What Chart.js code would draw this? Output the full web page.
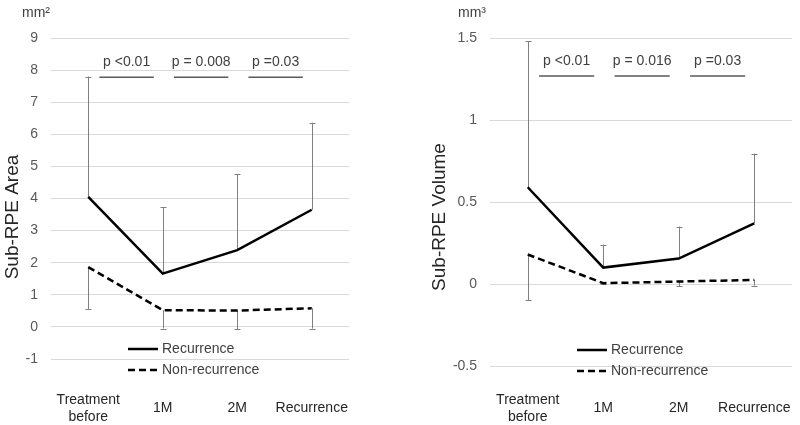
<!DOCTYPE html>
<html>
<head>
<meta charset="utf-8">
<script src="https://cdn.jsdelivr.net/npm/chart.js@4/dist/chart.umd.min.js"></script>
<style>
  html, body { margin: 0; padding: 0; background: #fff; }
  .row { display: flex; width: 800px; height: 425px; }
  canvas { display: block; }
</style>
</head>
<body>
<div class="row">
  <canvas id="areaChart" width="400" height="425"></canvas>
  <canvas id="volumeChart" width="400" height="425"></canvas>
</div>
<script>
// categories along the x axis
const categories = [["Treatment", "before"], "1M", "2M", "Recurrence"];

// Sub-RPE Area (mm2)
const areaRecurrence = [4.05, 1.66, 2.39, 3.65];
const areaRecurrenceUpper = [7.8, 3.72, 4.75, 6.36];
const areaNonRecurrence = [1.86, 0.52, 0.51, 0.58];
const areaNonRecurrenceLower = [0.56, -0.05, -0.08, -0.05];
const areaPValues = ["p <0.01", "p = 0.008", "p =0.03"];
const areaPLevel = 7.78;

// Sub-RPE Volume (mm3)
const volRecurrence = [0.59, 0.10, 0.155, 0.37];
const volRecurrenceUpper = [1.48, 0.24, 0.35, 0.795];
const volNonRecurrence = [0.18, 0.005, 0.015, 0.025];
const volNonRecurrenceLower = [-0.10, 0.0, -0.015, -0.01];
const volPValues = ["p <0.01", "p = 0.016", "p =0.03"];
const volPLevel = 1.268;

Chart.defaults.font.family = "'Liberation Sans', Arial, sans-serif";

// error bars, p-value brackets, legend, unit and y title
const extras = {
  id: "extras",
  beforeDatasetsDraw(chart, args, opts) {
    const { ctx, scales: { x, y } } = chart;
    ctx.save();
    ctx.strokeStyle = "#7f7f7f";
    ctx.lineWidth = 1;
    const bars = [[0, opts.upper], [1, opts.lower]];
    bars.forEach(([di, ends]) => {
      chart.data.datasets[di].data.forEach((v, i) => {
        const px = Math.round(x.getPixelForValue(i)) + 0.5;
        const y0 = y.getPixelForValue(v);
        const y1 = y.getPixelForValue(ends[i]);
        ctx.beginPath();
        ctx.moveTo(px, y0);
        ctx.lineTo(px, y1);
        ctx.moveTo(px - 3, Math.round(y1) + 0.5);
        ctx.lineTo(px + 3, Math.round(y1) + 0.5);
        ctx.stroke();
      });
    });
    ctx.restore();
  },
  afterDatasetsDraw(chart, args, opts) {
    const { ctx, scales: { x, y } } = chart;
    ctx.save();
    // p-value brackets
    const py = y.getPixelForValue(opts.pLevel);
    ctx.font = "14px 'Liberation Sans', Arial, sans-serif";
    ctx.textAlign = "center";
    ctx.textBaseline = "middle";
    opts.pTexts.forEach((t, i) => {
      const a = x.getPixelForValue(i + 0.15);
      const b = x.getPixelForValue(i + 0.88);
      ctx.strokeStyle = "#595959";
      ctx.lineWidth = 1.5;
      ctx.beginPath();
      ctx.moveTo(a, py);
      ctx.lineTo(b, py);
      ctx.stroke();
      ctx.fillStyle = "#404040";
      ctx.fillText(t, (a + b) / 2, py - 15);
    });
    // legend
    ctx.textAlign = "left";
    chart.data.datasets.forEach((ds, i) => {
      const ly = opts.legendY + i * 21;
      ctx.strokeStyle = ds.borderColor;
      ctx.lineWidth = ds.borderWidth;
      ctx.setLineDash(ds.borderDash || []);
      ctx.beginPath();
      ctx.moveTo(opts.legendX, ly);
      ctx.lineTo(opts.legendX + 30, ly);
      ctx.stroke();
      ctx.setLineDash([]);
      ctx.fillStyle = "#404040";
      ctx.fillText(ds.label, opts.legendX + 34, ly);
    });
    // unit
    ctx.fillStyle = "#404040";
    ctx.fillText(opts.unit, opts.unitX, 13);
    // y title
    ctx.translate(opts.titleX, 217);
    ctx.rotate(-Math.PI / 2);
    ctx.textAlign = "center";
    ctx.font = "19px 'Liberation Sans', Arial, sans-serif";
    ctx.fillStyle = "#262626";
    ctx.fillText(opts.title, 0, 0);
    ctx.restore();
  }
};

function makeChart(id, rec, nonRec, yMin, yMax, yStep, layoutPad, yWidth, xHeight, xPad, extraOpts) {
  return new Chart(document.getElementById(id), {
    type: "line",
    data: {
      labels: categories,
      datasets: [{
        label: "Recurrence",
        data: rec,
        borderColor: "#000000",
        borderWidth: 2.5,
        pointRadius: 0,
        tension: 0
      }, {
        label: "Non-recurrence",
        data: nonRec,
        borderColor: "#000000",
        borderWidth: 2.5,
        borderDash: [7, 4],
        pointRadius: 0,
        tension: 0
      }]
    },
    options: {
      responsive: false,
      animation: false,
      layout: { padding: layoutPad },
      plugins: {
        legend: { display: false },
        tooltip: { enabled: false },
        extras: extraOpts
      },
      scales: {
        x: {
          offset: true,
          grid: { display: false },
          border: { display: false },
          ticks: {
            color: "#262626",
            font: { size: 14 },
            padding: xPad,
            crossAlign: "center",
            maxRotation: 0,
            autoSkip: false
          },
          afterFit: (s) => {
            s.height = xHeight;
            s.paddingLeft = 0;
            s.paddingRight = 0;
          }
        },
        y: {
          min: yMin,
          max: yMax,
          grid: { color: "#d9d9d9", drawTicks: false },
          border: { display: false },
          ticks: {
            stepSize: yStep,
            color: "#595959",
            font: { size: 14 },
            padding: 13,
            callback: (v) => String(v)
          },
          afterFit: (s) => { s.width = yWidth; }
        }
      }
    },
    plugins: [extras]
  });
}

makeChart("areaChart", areaRecurrence, areaNonRecurrence, -1, 9, 1,
  { left: 0, top: 38, right: 51, bottom: 0 }, 51, 66, 33,
  { upper: areaRecurrenceUpper, lower: areaNonRecurrenceLower, pLevel: areaPLevel, pTexts: areaPValues,
    legendX: 128, legendY: 349, unit: "mm²", unitX: 22, title: "Sub-RPE Area", titleX: 13 });

makeChart("volumeChart", volRecurrence, volNonRecurrence, -0.5, 1.5, 0.5,
  { left: 28, top: 38, right: 8, bottom: 0 }, 62, 59, 26,
  { upper: volRecurrenceUpper, lower: volNonRecurrenceLower, pLevel: volPLevel, pTexts: volPValues,
    legendX: 177, legendY: 350, unit: "mm³", unitX: 58, title: "Sub-RPE Volume", titleX: 40 });
</script>
</body>
</html>
